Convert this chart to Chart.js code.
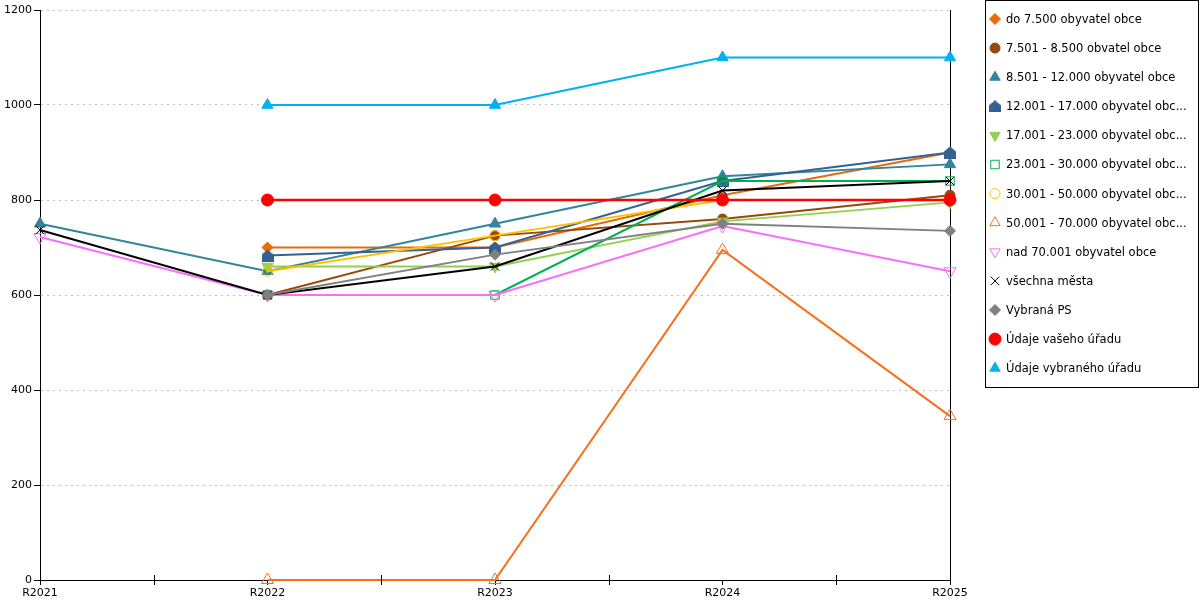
<!DOCTYPE html>
<html>
<head>
<meta charset="utf-8">
<script src="https://cdn.jsdelivr.net/npm/chart.js@4"></script>
<style>
  html, body { margin: 0; padding: 0; background: #fff; }
  #wrap { width: 1200px; height: 600px; }
</style>
</head>
<body>
<div id="wrap"><canvas id="lineChart" width="1200" height="600"></canvas></div>
<script>
// Categories (years)
const years = ['R2021', 'R2022', 'R2023', 'R2024', 'R2025'];

// Series values
const do7500 = [null, 700, 700, 810, 900];
const od7501 = [null, 600, 725, 760, 810];
const od8501 = [750, 650, 750, 850, 875];
const od12001 = [null, 683, 700, 840, 900];
const od17001 = [null, 660, 660, 755, 795];
const od23001 = [null, 600, 600, 840, 840];
const od30001 = [null, 650, 725, 800, 800];
const od50001 = [null, 0, 0, 695, 345];
const nad70001 = [722, 600, 600, 745, 650];
const vsechnaMesta = [737, 600, 660, 820, 840];
const vybranaPS = [null, 600, 685, 750, 735];
const vasUrad = [null, 800, 800, 800, 800];
const vybranyUrad = [null, 1000, 1000, 1100, 1100];

// Y axis ticks
const yMin = 0;
const yMax = 1200;
const yStep = 200;

const FONT = 'DejaVu Sans';

// "house" marker for the 12.001 - 17.000 series
function houseMarker(color) {
    const c = document.createElement('canvas');
    c.width = 12;
    c.height = 12;
    const g = c.getContext('2d');
    g.fillStyle = color;
    g.beginPath();
    g.moveTo(6, 0);
    g.lineTo(12, 5);
    g.lineTo(12, 12);
    g.lineTo(0, 12);
    g.lineTo(0, 5);
    g.closePath();
    g.fill();
    return c;
}

const NONE = 'rgba(0,0,0,0)';

const series = [
    { label: 'do 7.500 obyvatel obce', data: do7500, color: '#e46c0a', style: 'rectRot', r: 5.5, fill: true },
    { label: '7.501 - 8.500 obvatel obce', data: od7501, color: '#984807', style: 'circle', r: 5, fill: true },
    { label: '8.501 - 12.000 obyvatel obce', data: od8501, color: '#31859c', style: 'triangle', r: 6.5, fill: true },
    { label: '12.001 - 17.000 obyvatel obce', data: od12001, color: '#376092', style: houseMarker('#376092'), r: 6, fill: true },
    { label: '17.001 - 23.000 obyvatel obce', data: od17001, color: '#92d050', style: 'triangle', r: 6.5, fill: true, rot: 180 },
    { label: '23.001 - 30.000 obyvatel obce', data: od23001, color: '#00b050', style: 'rect', r: 6, fill: false },
    { label: '30.001 - 50.000 obyvatel obce', data: od30001, color: '#ffc000', style: 'circle', r: 5, fill: false },
    { label: '50.001 - 70.000 obyvatel obce', data: od50001, color: '#f66f1c', style: 'triangle', r: 7, fill: false },
    { label: 'nad 70.001 obyvatel obce', data: nad70001, color: '#f86ff8', style: 'triangle', r: 7, fill: false, rot: 180 },
    { label: 'všechna města', data: vsechnaMesta, color: '#000000', style: 'crossRot', r: 6, fill: false },
    { label: 'Vybraná PS', data: vybranaPS, color: '#808080', style: 'rectRot', r: 5.5, fill: true },
    { label: 'Údaje vašeho úřadu', data: vasUrad, color: '#ff0000', style: 'circle', r: 6, fill: true, width: 2.5 },
    { label: 'Údaje vybraného úřadu', data: vybranyUrad, color: '#00b0f0', style: 'triangle', r: 6.5, fill: true }
];

const datasets = series.map((s, i) => ({
    label: s.label,
    data: s.data,
    borderColor: s.color,
    backgroundColor: s.color,
    borderWidth: s.width || 2,
    pointStyle: s.style,
    pointRadius: s.r,
    pointRotation: s.rot || 0,
    pointBackgroundColor: s.fill ? s.color : NONE,
    pointBorderColor: s.color,
    pointBorderWidth: 1,
    tension: 0,
    spanGaps: false,
    clip: false, // markers on the axes stay whole
    order: -i // later series drawn on top
}));

// Frame with legend on the right + minor ticks between categories
const extras = {
    id: 'extras',
    afterDraw(chart) {
        const ctx = chart.ctx;
        const x = chart.scales.x;
        const area = chart.chartArea;

        // minor ticks halfway between categories
        ctx.save();
        ctx.strokeStyle = '#000';
        ctx.lineWidth = 1;
        for (let i = 0; i < years.length - 1; i++) {
            const px = Math.round((x.getPixelForTick(i) + x.getPixelForTick(i + 1)) / 2) + 0.5;
            ctx.beginPath();
            ctx.moveTo(px, area.bottom - 5);
            ctx.lineTo(px, area.bottom + 5);
            ctx.stroke();
        }
        ctx.restore();

        // legend box
        ctx.save();
        ctx.strokeStyle = '#000';
        ctx.lineWidth = 1;
        ctx.strokeRect(985.5, 0.5, 213, 387);
        ctx.font = '11.5px "' + FONT + '"';
        ctx.textBaseline = 'middle';
        ctx.textAlign = 'left';
        const maxW = 174;
        series.forEach((s, i) => {
            const cy = 19 + i * 29.1;
            ctx.fillStyle = s.fill ? s.color : NONE;
            ctx.strokeStyle = s.color;
            ctx.lineWidth = 1;
            Chart.helpers.drawPoint(ctx, {
                pointStyle: s.style,
                radius: Math.min(s.r, 6),
                rotation: s.rot || 0,
                borderWidth: 1
            }, 995, cy);
            // long labels get cut and an ellipsis appended
            let text = s.label;
            if (ctx.measureText(text).width > maxW) {
                while (text.length && ctx.measureText(text).width > maxW) {
                    text = text.slice(0, -1);
                }
                text += '...';
            }
            ctx.fillStyle = '#000';
            ctx.fillText(text, 1006, cy + 1);
        });
        ctx.restore();
    }
};

const lineChart = new Chart(document.getElementById('lineChart'), {
    type: 'line',
    data: { labels: years, datasets: datasets },
    plugins: [extras],
    options: {
        responsive: false,
        animation: false,
        layout: { padding: { top: 10, right: 250, left: 0, bottom: 0 } },
        plugins: {
            legend: { display: false },
            tooltip: { enabled: false }
        },
        scales: {
            x: {
                offset: false,
                grid: { drawOnChartArea: false, drawTicks: true, tickLength: 5, color: '#000' },
                border: { color: '#000', width: 1 },
                ticks: { color: '#000', font: { family: FONT, size: 11 }, padding: 2, maxRotation: 0 },
                afterFit(s) { s.height = 20; }
            },
            y: {
                min: yMin,
                max: yMax,
                grid: {
                    color: '#c0c0c0',
                    tickColor: '#000',
                    tickLength: 6,
                    tickBorderDash: [],
                    drawTicks: true
                },
                border: { color: '#000', width: 1, dash: [2, 4] },
                ticks: {
                    stepSize: yStep,
                    color: '#000',
                    font: { family: FONT, size: 11 },
                    padding: 2,
                    callback: v => String(v)
                },
                afterFit(s) { s.width = 40; }
            },
            y2: {
                position: 'right',
                min: yMin,
                max: yMax,
                grid: { drawOnChartArea: false, drawTicks: false },
                border: { color: '#000', width: 1 },
                ticks: { display: false },
                afterFit(s) { s.width = 0; }
            }
        }
    }
});
</script>
</body>
</html>
